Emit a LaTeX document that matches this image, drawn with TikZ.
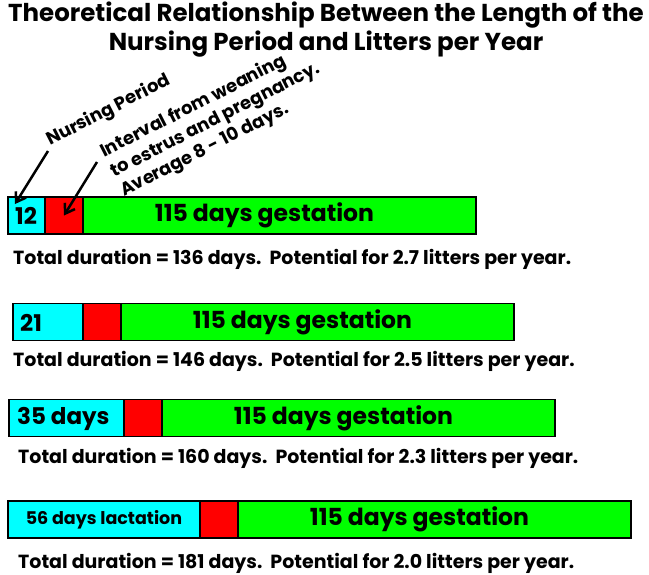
\documentclass[tikz,border=0pt]{standalone}
\usepackage{fontspec}
\setmainfont{Poppins}
\definecolor{nursecyan}{RGB}{0,255,255}
\definecolor{weanred}{RGB}{255,0,0}
\definecolor{gestgreen}{RGB}{0,255,0}
\usetikzlibrary{arrows.meta,positioning}

\begin{document}
\begin{tikzpicture}[x=1pt,y=-1pt,
  bar/.style={draw=black,line width=1.2pt,minimum height=37pt,
              inner sep=0pt,outer sep=0pt,anchor=west},
  nurse/.style={bar,fill=nursecyan},
  wean/.style={bar,fill=weanred,minimum width=38pt},
  gest/.style={bar,fill=gestgreen,minimum width=393pt,
               label={[font=\fontsize{23.5}{26}\selectfont\bfseries,xshift=-15pt]center:115 days gestation}},
  barlabel/.style={font=\fontsize{23}{26}\selectfont\bfseries,anchor=west,inner sep=0pt},
  total/.style={font=\fontsize{19}{22}\selectfont\bfseries,anchor=west,inner sep=0pt},
  note/.style={font=\fontsize{18}{22}\selectfont\bfseries,rotate=27,align=left,inner sep=0pt},
  pointer/.style={line width=2.5pt,-{Straight Barb[length=9pt,width=12pt]}}
]
\useasboundingbox (0,0) rectangle (649,574);

% title
\node[font=\fontsize{24.5}{29}\selectfont\bfseries,align=center] (title) at (326,30)
  {Theoretical Relationship Between the Length of the\\Nursing Period and Litters per Year};

% bar 1
\node[nurse,minimum width=37pt] (n1) at (8,215.5) {};
\node[wean,right=0pt of n1] (w1) {};
\node[gest,right=0pt of w1] (g1) {};
\node[barlabel] at (15,216) {12};
\node[total] (t1) at (13,259) {Total duration = 136 days.\ \ Potential for 2.7 litters per year.};

% bar 2
\node[nurse,minimum width=70pt] (n2) at (13,322) {};
\node[wean,right=0pt of n2] (w2) {};
\node[gest,right=0pt of w2] (g2) {};
\node[barlabel] at (20,323) {21};
\node[total] (t2) at (13,361) {Total duration = 146 days.\ \ Potential for 2.5 litters per year.};

% bar 3
\node[nurse,minimum width=115pt] (n3) at (9,418) {};
\node[wean,right=0pt of n3] (w3) {};
\node[gest,right=0pt of w3] (g3) {};
\node[barlabel] at (17,419) {35 days};
\node[total] (t3) at (18,458) {Total duration = 160 days.\ \ Potential for 2.3 litters per year.};

% bar 4
\node[nurse,minimum width=192pt,font=\fontsize{17.5}{20}\selectfont\bfseries] (n4) at (8,519.5) {56 days lactation};
\node[wean,right=0pt of n4] (w4) {};
\node[gest,right=0pt of w4] (g4) {};
\node[total] (t4) at (18,563) {Total duration = 181 days.\ \ Potential for 2.0 litters per year.};

% notes with pointers
\node[note,anchor=base west] (nurse note) at (50,146) {Nursing Period};
\node[note,anchor=base west] (wean note) at (124,197)
  {Interval from weaning\\to estrus and pregnancy.\\Average 8 - 10 days.};
\coordinate (n1 tip) at (15,204);
\coordinate (w1 tail) at (97,162);
\draw[pointer] (nurse note.base west) ++(-2,5) -- (n1 tip);
\draw[pointer] (w1 tail) -- (w1.center);
\end{tikzpicture}
\end{document}
